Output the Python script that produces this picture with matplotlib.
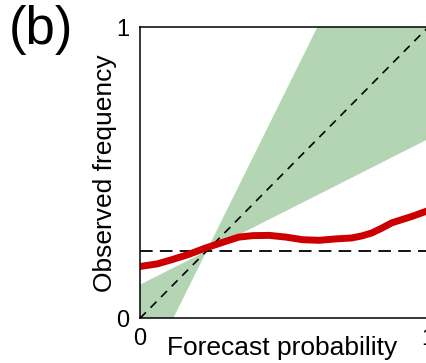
import numpy as np
import matplotlib
matplotlib.use("Agg")
import matplotlib.pyplot as plt

plt.rcParams['font.family'] = ['Liberation Sans', 'DejaVu Sans']

# reliability curve
forecast = [0.0, 0.06, 0.109, 0.17, 0.226, 0.29, 0.343, 0.391, 0.448, 0.507,
            0.565, 0.622, 0.682, 0.734, 0.77, 0.804, 0.84, 0.874, 0.944, 1.0]
observed = [0.178, 0.187, 0.201, 0.22, 0.241, 0.262, 0.279, 0.284, 0.285,
            0.279, 0.270, 0.268, 0.273, 0.276, 0.283, 0.293, 0.31, 0.328,
            0.350, 0.370]
climatology = 0.231

fig = plt.figure(figsize=(4.27, 3.63), dpi=100)
ax = fig.add_axes([140 / 427, (363 - 318.3) / 363, 288 / 427, 291 / 363])

# skill wedge between slope-2 and slope-1/2 lines through the climatology point
xs = np.array([0.0, climatology, 1.0])
steep = climatology + 2.0 * (xs - climatology)
shallow = climatology + 0.5 * (xs - climatology)
ax.fill_between(xs, steep, shallow, color='#b3d5b3', linewidth=0)

ax.plot([0, 1], [0, 1], color='black', linestyle=(0, (5, 4)), linewidth=1.2)
ax.axhline(climatology, color='black', linestyle=(0, (7, 4)), linewidth=1.3)
ax.plot(forecast, observed, color='#cc0000', linewidth=5,
        solid_capstyle='butt', solid_joinstyle='round')

ax.set_xlim(0, 1)
ax.set_ylim(0, 1)
ax.set_xticks([0, 1])
ax.set_yticks([0, 1])
ax.tick_params(length=0, labelsize=17)
ax.tick_params(axis='x', pad=7)
ax.tick_params(axis='y', pad=8)
ax.spines['right'].set_visible(False)
for s in ['left', 'top', 'bottom']:
    ax.spines[s].set_linewidth(1.1)

ax.set_xlabel('Forecast probability', fontsize=19, va='baseline')
ax.xaxis.set_label_coords(0.494, -0.127)
ax.set_ylabel('Observed frequency', fontsize=19, va='center')
ax.yaxis.set_label_coords(-0.122, 0.5)
fig.text(9 / 427, 1 - 44 / 363, '(b)', fontsize=38, ha='left', va='baseline')

fig.savefig('out.png', dpi=100)
